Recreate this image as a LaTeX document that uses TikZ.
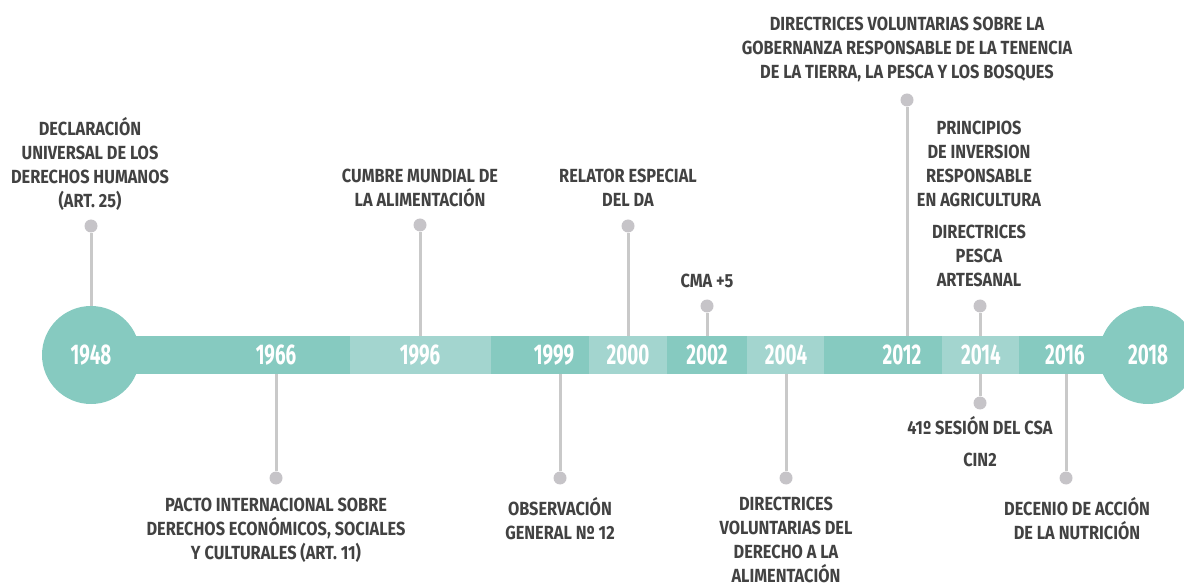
\documentclass[tikz,border=0pt]{standalone}
\usepackage{fontspec}
\setmainfont{Fira Sans}[FakeStretch=0.80]
\definecolor{tdark}{HTML}{86CAC0}
\definecolor{tlight}{HTML}{A3D5CF}
\definecolor{lgray}{HTML}{C9C9C9}
\definecolor{dgray}{HTML}{C6C4C8}
\definecolor{txt}{HTML}{424242}
\tikzset{
  seg/.style={draw=none,inner sep=0pt,minimum height=38pt,anchor=west},
  segdark/.style={seg,fill=tdark},
  seglight/.style={seg,fill=tlight},
  endcirc/.style={circle,fill=tdark,minimum size=98pt,inner sep=0pt},
  year/.style={text=white,font=\fontsize{28.5}{28.5}\selectfont\bfseries\addfontfeature{FakeStretch=0.66},inner sep=0pt},
  pin/.style={circle,fill=dgray,minimum size=13pt,inner sep=0pt},
  conn/.style={draw=lgray,line width=3pt},
  lbl/.style={text=txt,align=center,inner sep=0pt,font=\fontsize{19}{24}\selectfont\bfseries\addfontfeature{FakeStretch=0.86}}
}
\begin{document}
\begin{tikzpicture}[x=1pt,y=-1pt]
\useasboundingbox (0,0) rectangle (1184,585);
% connector end coordinates on the bar
\coordinate (b1966) at (276,374);
\coordinate (b1996) at (420,336);
\coordinate (b1999) at (560,374);
\coordinate (b2000) at (628,336);
\coordinate (b2002) at (707,336);
\coordinate (b2004) at (786,374);
\coordinate (b2012) at (907,336);
\coordinate (b2014u) at (980,336);
\coordinate (b2014d) at (980,374);
\coordinate (b2016) at (1066,374);
% pins
\node[pin] (p1948) at (91,226) {};
\node[pin] (p1966) at (276,478) {};
\node[pin] (p1996) at (420,225) {};
\node[pin] (p1999) at (560,478) {};
\node[pin] (p2000) at (628,226) {};
\node[pin] (p2002) at (707,306) {};
\node[pin] (p2004) at (786,478) {};
\node[pin] (p2012) at (907,100) {};
\node[pin] (p2014u) at (980,306) {};
\node[pin] (p2014d) at (980,403) {};
\node[pin] (p2016) at (1066,478) {};
% bar
\node[segdark,minimum width=259pt] (s1) at (91,355) {};
\node[seglight,minimum width=141pt] (s2) at (350,355) {};
\node[segdark,minimum width=97.5pt] (s3) at (491,355) {};
\node[seglight,minimum width=78.5pt] (s4) at (588.5,355) {};
\node[segdark,minimum width=79.5pt] (s5) at (667,355) {};
\node[seglight,minimum width=77pt] (s6) at (746.5,355) {};
\node[segdark,minimum width=118.5pt] (s7) at (823.5,355) {};
\node[seglight,minimum width=77pt] (s8) at (942,355) {};
\node[segdark,minimum width=129pt] (s9) at (1019,355) {};
\node[endcirc] (c1948) at (91,355) {};
\node[endcirc] (c2018) at (1148,355) {};
% connectors
\draw[conn] (c1948.north) -- (p1948);
\draw[conn] (b1966) -- (p1966);
\draw[conn] (b1996) -- (p1996);
\draw[conn] (b1999) -- (p1999);
\draw[conn] (b2000) -- (p2000);
\draw[conn] (b2002) -- (p2002);
\draw[conn] (b2004) -- (p2004);
\draw[conn] (b2012) -- (p2012);
\draw[conn] (b2014u) -- (p2014u);
\draw[conn] (b2014d) -- (p2014d);
\draw[conn] (b2016) -- (p2016);
% years
\node[year] (y1948) at (91,355) {1948};
\node[year] (y1966) at (276,355) {1966};
\node[year] (y1996) at (420,355) {1996};
\node[year] (y1999) at (554,355) {1999};
\node[year] (y2000) at (628,355) {2000};
\node[year] (y2002) at (707,355) {2002};
\node[year] (y2004) at (786,355) {2004};
\node[year] (y2012) at (902,355) {2012};
\node[year] (y2014) at (981,355) {2014};
\node[year] (y2016) at (1065,355) {2016};
\node[year] (y2018) at (1148,355) {2018};
% labels
\node[lbl] (t1948) at (90,164) {DECLARACIÓN\\UNIVERSAL DE LOS\\DERECHOS HUMANOS\\(ART. 25)};
\node[lbl] (t1966) at (276,530) {PACTO INTERNACIONAL SOBRE\\DERECHOS ECONÓMICOS, SOCIALES\\Y CULTURALES (ART. 11)};
\node[lbl] (t1996) at (420,188) {CUMBRE MUNDIAL DE\\LA ALIMENTACIÓN};
\node[lbl] (t1999) at (560,518.5) {OBSERVACIÓN\\GENERAL Nº 12};
\node[lbl] (t2000) at (628,188) {RELATOR ESPECIAL\\DEL DA};
\node[lbl] (t2002) at (707,281) {CMA +5};
\node[lbl] (t2004) at (786,539.5) {DIRECTRICES\\VOLUNTARIAS DEL\\DERECHO A LA\\ALIMENTACIÓN};
\node[lbl] (t2012) at (907,49.5) {DIRECTRICES VOLUNTARIAS SOBRE LA\\GOBERNANZA RESPONSABLE DE LA TENENCIA\\DE LA TIERRA, LA PESCA Y LOS BOSQUES};
\node[lbl] (t2014a) at (979,164) {PRINCIPIOS\\DE INVERSION\\RESPONSABLE\\EN AGRICULTURA};
\node[lbl] (t2014b) at (979,256) {DIRECTRICES\\PESCA\\ARTESANAL};
\node[lbl] (t2014c) at (980,426) {41º SESIÓN DEL CSA};
\node[lbl] (t2014d) at (980,460) {CIN2};
\node[lbl] (t2016) at (1077,518.5) {DECENIO DE ACCIÓN\\DE LA NUTRICIÓN};
\end{tikzpicture}
\end{document}
